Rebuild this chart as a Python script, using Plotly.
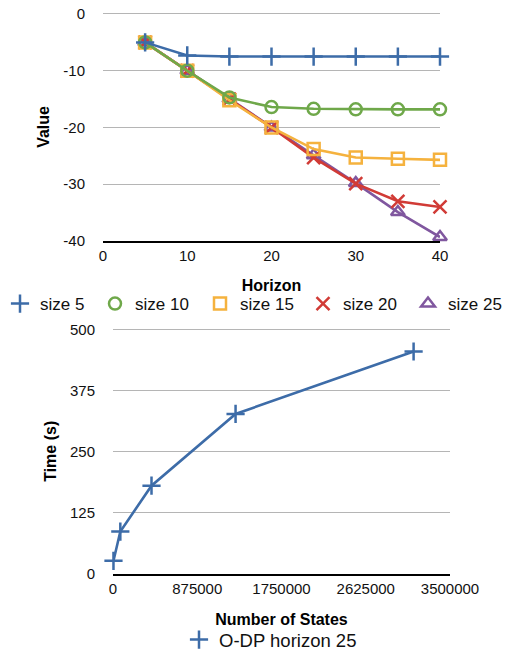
import plotly.graph_objects as go

horizon = [5, 10, 15, 20, 25, 30, 35, 40]
size5 = [-5, -7.3, -7.5, -7.5, -7.5, -7.5, -7.5, -7.5]
size10 = [-5, -10, -14.7, -16.4, -16.7, -16.8, -16.8, -16.8]
size15 = [-5, -10, -15.2, -20, -23.8, -25.3, -25.5, -25.7]
size20 = [-5, -10, -15, -20, -25.3, -29.9, -33.0, -34.0]
size25 = [-5, -10, -15, -20, -24.9, -29.8, -34.9, -39.3]
series_names = ["size 5", "size 10", "size 15", "size 20", "size 25"]

states = [5000, 76000, 400000, 1273000, 3122000]
times = [27, 87, 181, 328, 456]
bottom_name = "O-DP horizon 25"

y_ticks_top = [0, -10, -20, -30, -40]
x_ticks_top = [0, 10, 20, 30, 40]
x_ticks_bot = [0, 875000, 1750000, 2625000, 3500000]
y_ticks_bot = [0, 125, 250, 375, 500]

colors = ["#3D6CA8", "#6FA84A", "#F5B23E", "#D13B36", "#80579F"]
symbols = ["cross-thin-open", "circle-open", "square-open", "x-thin-open", "triangle-up-open"]
sizes = [13, 12, 12, 13, 12]

FONT = "Liberation Sans, Arial, Helvetica, sans-serif"

# the page's body margin is removed (post_script), so the figure fills the window
OFF = 0
W = 508
H = 650


def dx(px):
    return (px - OFF) / W


def dy(py):
    return 1 - (py - OFF) / H


# top plot: value 0 at page y 14, -40 at 241; range padded a bit so the top gridline is drawn
TOP_RANGE = [-40, 0.2]
top_ppu = (241 - 14) / 40.0
top_dom_top = 241 - (TOP_RANGE[1] - TOP_RANGE[0]) * top_ppu
BOT_RANGE = [0, 503]
bot_ppu = (574 - 330) / 500.0
bot_dom_top = 574 - (BOT_RANGE[1] - BOT_RANGE[0]) * bot_ppu

fig = go.Figure()
all_series = [size5, size10, size15, size20, size25]
order = [4, 3, 2, 1, 0]
for i in order:
    fig.add_trace(go.Scatter(
        x=horizon, y=all_series[i], mode="lines+markers", name=series_names[i],
        line=dict(color=colors[i], width=2.6),
        marker=dict(symbol=symbols[i], size=sizes[i], color=colors[i], line=dict(width=2.5, color=colors[i])),
        showlegend=False, cliponaxis=False, xaxis="x", yaxis="y"))

legend_ids = ["legend", "legend3", "legend4", "legend5", "legend6"]
legend_sym_x = [20, 115, 220, 323, 428]  # page x of each legend symbol
for i in range(5):
    fig.add_trace(go.Scatter(
        x=[None], y=[None], mode="markers", name=series_names[i],
        marker=dict(symbol=symbols[i], size=sizes[i], color=colors[i], line=dict(width=2.5, color=colors[i])),
        showlegend=True, legend=legend_ids[i], xaxis="x", yaxis="y"))

fig.add_trace(go.Scatter(
    x=states, y=times, mode="lines+markers", name=bottom_name,
    line=dict(color=colors[0], width=2.6),
    marker=dict(symbol="cross-thin-open", size=13, color=colors[0], line=dict(width=2.5, color=colors[0])),
    showlegend=False, cliponaxis=False, xaxis="x2", yaxis="y2"))
fig.add_trace(go.Scatter(
    x=[None], y=[None], mode="markers", name=bottom_name,
    marker=dict(symbol="cross-thin-open", size=13, color=colors[0], line=dict(width=2.5, color=colors[0])),
    showlegend=True, legend="legend2", xaxis="x2", yaxis="y2"))

tickfont = dict(family=FONT, size=15, color="#111111")
titlefont = dict(family=FONT, size=16, color="#000000")

layout = dict(
    width=W, height=H,
    margin=dict(l=0, r=0, t=0, b=0, autoexpand=False),
    paper_bgcolor="white", plot_bgcolor="white",
    font=dict(family=FONT, size=15, color="#111111"),
    xaxis=dict(domain=[dx(103), dx(440)], range=[0, 40], tickvals=x_ticks_top,
               showgrid=False, zeroline=False, showline=True, linecolor="#000000", linewidth=1.5,
               ticks="", tickfont=tickfont, anchor="y", automargin=False,
               title=dict(text="<b>Horizon</b>", font=titlefont, standoff=17)),
    yaxis=dict(domain=[dy(241), dy(top_dom_top)], range=TOP_RANGE, tickvals=y_ticks_top,
               ticktext=[str(v) for v in y_ticks_top],
               showgrid=True, gridcolor="#b5b5b5", gridwidth=1, zeroline=False, showline=False,
               ticks="", tickfont=tickfont, anchor="x", automargin=False, ticklabelstandoff=17,
               ticklabeloverflow="allow",
               title=dict(text="<b>Value</b>", font=titlefont, standoff=9)),
    xaxis2=dict(domain=[dx(113), dx(450)], range=[0, 3500000], tickvals=x_ticks_bot,
                ticktext=[str(v) for v in x_ticks_bot],
                showgrid=False, zeroline=False, showline=True, linecolor="#000000", linewidth=1.5,
                ticks="", tickfont=tickfont, anchor="y2", automargin=False,
                title=dict(text="<b>Number of States</b>", font=titlefont, standoff=18)),
    yaxis2=dict(domain=[dy(574), dy(bot_dom_top)], range=BOT_RANGE, tickvals=y_ticks_bot,
                showgrid=True, gridcolor="#b5b5b5", gridwidth=1, zeroline=False, showline=False,
                ticks="", tickfont=tickfont, anchor="x2", automargin=False, ticklabelstandoff=17,
                ticklabeloverflow="allow",
                title=dict(text="<b>Time (s)</b>", font=titlefont, standoff=9)),
    legend2=dict(orientation="h", x=dx(199 - 20), xanchor="left", y=dy(621), yanchor="top",
                 font=dict(family=FONT, size=18.5, color="#111111"), bgcolor="rgba(0,0,0,0)"),
)
for i, lid in enumerate(legend_ids):
    layout[lid] = dict(orientation="h", x=dx(legend_sym_x[i] - 20), xanchor="left",
                       y=dy(286), yanchor="top",
                       font=dict(family=FONT, size=17, color="#111111"), bgcolor="rgba(0,0,0,0)")

fig.update_layout(**layout)

fig.write_html("out.html",
               config={"displayModeBar": False},
               post_script="document.body.style.margin='0';document.body.style.overflow='hidden';")
